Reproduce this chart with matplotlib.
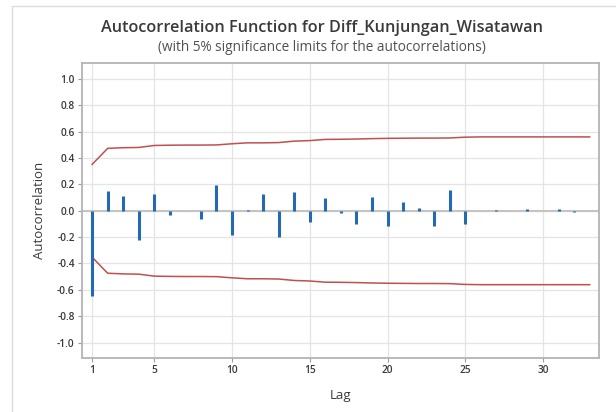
import numpy as np
import matplotlib
matplotlib.use("Agg")
import matplotlib.pyplot as plt
from matplotlib.patches import Rectangle

# ACF values
lags = list(range(1, 34))
acf = [-0.65, 0.154, 0.113, -0.222, 0.13, -0.033, -0.005, -0.065, 0.195, -0.187,
       0.004, 0.13, -0.198, 0.143, -0.082, 0.095, -0.02, -0.1, 0.105, -0.113,
       0.067, 0.02, -0.118, 0.16, -0.1, -0.005, 0.003, -0.005, 0.01, 0.002,
       0.01, -0.012, -0.005]

# upper 5% significance limit per lag (lower is the mirror)
limit = [0.352, 0.474, 0.479, 0.481, 0.496, 0.498, 0.499, 0.499, 0.500, 0.509,
         0.516, 0.516, 0.518, 0.529, 0.533, 0.542, 0.543, 0.545, 0.548, 0.550,
         0.551, 0.552, 0.552, 0.553, 0.559, 0.561, 0.561, 0.561, 0.561, 0.561,
         0.561, 0.561, 0.561]

xticks = [1, 5, 10, 15, 20, 25, 30]
yticks = np.round(np.arange(-1.0, 1.01, 0.2), 1)

plt.rcParams['font.family'] = ['Open Sans', 'DejaVu Sans']
text_col = '#3a3a3a'

fig = plt.figure(figsize=(6.16, 4.12), dpi=100)
fig.patches.append(Rectangle((12 / 616, -0.1), 1.2, 1 - 6 / 412 + 0.1,
                             transform=fig.transFigure, fill=False,
                             edgecolor='#dcdcdc', linewidth=1.0))

ax = fig.add_axes([0.1326, 0.1303, 0.9724 - 0.1326, 0.8464 - 0.1303])

ax.axhline(0, color='#c4c4c4', linewidth=1.5, zorder=1)
ax.vlines(lags, 0, acf, color='#2469b3', linewidth=2.2, zorder=3)
ax.plot(lags, limit, color='#c0504d', linewidth=1.1, zorder=2)
ax.plot(lags, [-v for v in limit], color='#c0504d', linewidth=1.1, zorder=2)

ax.set_xlim(0.33, 33.6)
ax.set_ylim(-1.12, 1.12)
ax.set_xticks(xticks)
ax.set_yticks(yticks)
ax.set_yticklabels([f"{v:.1f}".replace('-0.0', '0.0') for v in yticks])
ax.grid(True, color='#e4e4e4', linewidth=0.9)
ax.set_axisbelow(True)

for s in ax.spines.values():
    s.set_color('#b4b4b4')
    s.set_linewidth(1.3)
ax.tick_params(axis='both', colors='#9a9a9a', length=3, width=0.8,
               labelsize=7.3, labelcolor=text_col, pad=2)
for lab in ax.get_xticklabels() + ax.get_yticklabels():
    lab.set_fontweight('semibold')

ax.set_xlabel('Lag', fontsize=9.5, color=text_col, labelpad=9)
ax.set_ylabel('Autocorrelation', fontsize=9.5, color=text_col, labelpad=8)

fig.text(0.522, 0.932, 'Autocorrelation Function for Diff_Kunjungan_Wisatawan',
         ha='center', va='center', fontsize=11.7, fontweight='semibold', color=text_col)
fig.text(0.522, 0.885, '(with 5% significance limits for the autocorrelations)',
         ha='center', va='center', fontsize=9.8, color='#505050')

fig.savefig('out.png', dpi=100)
